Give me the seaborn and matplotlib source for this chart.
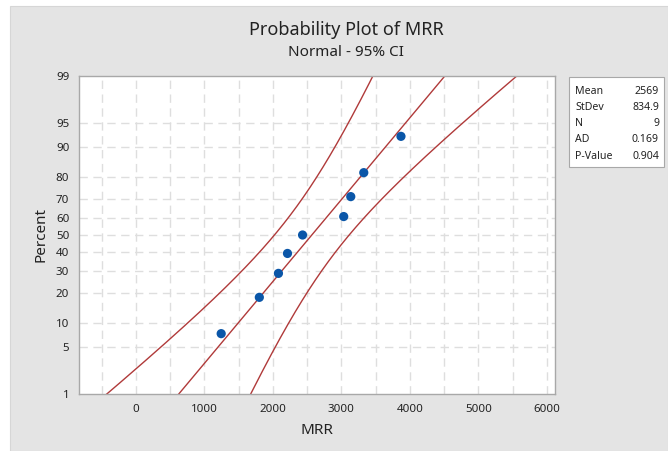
import numpy as np
import pandas as pd
import matplotlib
matplotlib.use("Agg")
import matplotlib.pyplot as plt
import seaborn as sns
from statistics import NormalDist

# ---- data ----
mrr = [1246, 1803, 2082, 2214, 2434, 3035, 3138, 3328, 3871]
mean_val = 2569
stdev_val = 834.9
n_val = 9
ad_val = 0.169
p_val = 0.904
y_ticks_pct = [1, 5, 10, 20, 30, 40, 50, 60, 70, 80, 90, 95, 99]
x_ticks = [0, 1000, 2000, 3000, 4000, 5000, 6000]

nd = NormalDist()
n = len(mrr)
xs = sorted(mrr)
ranks = [(i + 1 - 0.3) / (n + 0.4) for i in range(n)]
pts = pd.DataFrame({"MRR": xs, "z": [nd.inv_cdf(p) for p in ranks]})

# fitted line and 95% CI bands (Minitab style)
pgrid = np.linspace(0.0005, 0.9995, 400)
zg = np.array([nd.inv_cdf(p) for p in pgrid])
fit = mean_val + zg * stdev_val
se = stdev_val * np.sqrt(1.0 / n_val + zg ** 2 / (2.0 * n_val))
lines = pd.concat([
    pd.DataFrame({"x": fit, "z": zg, "k": "fit"}),
    pd.DataFrame({"x": fit - 1.96 * se, "z": zg, "k": "lo"}),
    pd.DataFrame({"x": fit + 1.96 * se, "z": zg, "k": "hi"}),
])

sns.set_style("white")
plt.rcParams["font.family"] = ["Noto Sans", "DejaVu Sans"]

fig = plt.figure(figsize=(6.68, 4.51), dpi=100)
fig.patch.set_facecolor("white")
bg = matplotlib.patches.Rectangle((10 / 668, 0), 1 - 10 / 668, 1 - 6 / 451,
                                  transform=fig.transFigure, facecolor="#e4e4e4",
                                  edgecolor="#d6d6d6", lw=0.8, zorder=-10)
fig.patches.append(bg)

ax = fig.add_axes([79 / 668, 1 - 394 / 451, (555 - 79) / 668, (394 - 76) / 451])
ax.set_facecolor("white")

# grid
for gx in np.arange(-500, 6001, 500):
    ax.axvline(gx, color="#dedede", lw=1.0, ls=(0, (6, 4)), zorder=0)
for p in y_ticks_pct[1:-1]:
    ax.axhline(nd.inv_cdf(p / 100), color="#dedede", lw=1.0, ls=(0, (6, 4)), zorder=0)

red = "#b03a3a"
sns.lineplot(data=lines, x="x", y="z", units="k", estimator=None, sort=False,
             color=red, lw=1.0, ax=ax, zorder=2)
sns.scatterplot(data=pts, x="MRR", y="z", color="#0a56a8", s=44,
                edgecolor="none", ax=ax, zorder=3)

ax.set_xlim(-830, 6120)
ax.set_ylim(nd.inv_cdf(0.01), nd.inv_cdf(0.99))
ax.set_xticks(x_ticks)
ax.set_xticklabels([str(t) for t in x_ticks])
ax.set_yticks([nd.inv_cdf(p / 100) for p in y_ticks_pct])
ax.set_yticklabels([str(p) for p in y_ticks_pct])
ax.tick_params(axis="both", labelsize=8.3, colors="#9a9a9a", labelcolor="#222222",
               length=4, width=0.8, direction="out", pad=3)
for s in ax.spines.values():
    s.set_color("#a8a8a8")
    s.set_linewidth(1.0)
ax.set_xlabel("MRR", fontsize=11, color="#222222", labelpad=6)
ax.set_ylabel("Percent", fontsize=11, color="#222222", labelpad=5)

fig.text(346 / 668, 1 - 30 / 451, "Probability Plot of MRR", ha="center",
         va="center", fontsize=13, fontweight="medium", color="#222222")
fig.text(346 / 668, 1 - 52 / 451, "Normal - 95% CI", ha="center",
         va="center", fontsize=11, fontweight="medium", color="#222222")

# statistics box
box = matplotlib.patches.Rectangle((569 / 668, 1 - 167 / 451), 95 / 668, 90 / 451,
                                   transform=fig.transFigure, facecolor="white",
                                   edgecolor="#a8a8a8", lw=0.8, zorder=5)
fig.patches.append(box)
labels = ["Mean", "StDev", "N", "AD", "P-Value"]
values = [str(mean_val), f"{stdev_val:.1f}", str(n_val), f"{ad_val:.3f}", f"{p_val:.3f}"]
for i, (lab, val) in enumerate(zip(labels, values)):
    yy = 1 - (91 + i * 16.3) / 451
    fig.text(575 / 668, yy, lab, ha="left", va="center", fontsize=7.6, color="#222222", zorder=6)
    fig.text(659 / 668, yy, val, ha="right", va="center", fontsize=7.6, color="#222222", zorder=6)

fig.savefig("out.png", dpi=100, facecolor=fig.get_facecolor())
